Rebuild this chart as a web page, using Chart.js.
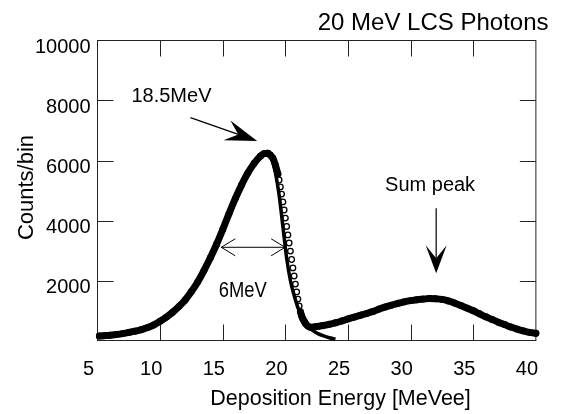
<!DOCTYPE html>
<html>
<head>
<meta charset="utf-8">
<script src="https://cdn.jsdelivr.net/npm/chart.js@4.4.1/dist/chart.umd.min.js"></script>
<style>
  html, body { margin: 0; padding: 0; background: #fff; }
</style>
</head>
<body>
<canvas id="lcsChart" width="564" height="414"></canvas>
<script>
// measured spectrum (open circles)
const measEnergy = [5.15, 5.5, 6.0, 6.5, 7.0, 7.5, 8.0, 8.5, 9.0, 9.5, 10.0, 10.5, 11.0, 11.5, 12.0, 12.5,
    13.0, 13.5, 14.0, 14.5, 15.0, 15.5, 16.0, 16.5, 17.0, 17.5, 18.0, 18.3, 18.6, 18.8, 19.0, 19.2,
    19.4, 19.5, 19.6, 19.7, 19.8, 19.9, 20.0, 20.1, 20.2, 20.3, 20.4, 20.5, 20.6, 20.7, 20.8, 20.9,
    21.0, 21.1, 21.2, 21.3, 21.4, 21.5, 21.6, 21.8, 22.0, 22.3, 22.6, 23.0, 23.5, 24.0, 24.5, 25.0,
    25.5, 26.0, 26.5, 27.0, 27.5, 28.0, 28.5, 29.0, 29.5, 30.0, 30.5, 31.0, 31.5, 32.0, 32.5, 33.0,
    33.5, 34.0, 34.5, 35.0, 35.5, 36.0, 36.5, 37.0, 37.5, 38.0, 38.5, 39.0, 39.5, 40.0];
const measCounts = [150, 160, 175, 200, 230, 270, 310, 360, 430, 520, 640, 780, 940, 1130, 1350, 1630,
    1950, 2330, 2750, 3200, 3700, 4230, 4730, 5180, 5580, 5900, 6140, 6230, 6240, 6180, 6080, 5850,
    5550, 5350, 5120, 4880, 4620, 4350, 4080, 3800, 3520, 3250, 2980, 2700, 2420, 2150, 1880, 1620,
    1380, 1150, 960, 820, 720, 640, 570, 480, 440, 450, 470, 500, 540, 590, 650, 720,
    780, 840, 900, 970, 1050, 1120, 1180, 1240, 1290, 1330, 1360, 1380, 1400, 1390, 1370, 1320,
    1250, 1170, 1080, 990, 890, 790, 700, 610, 530, 450, 380, 320, 270, 240];

// simulated response (solid line)
const simEnergy = [5.15, 6, 7, 8, 9, 10, 11, 12, 13, 14, 15, 16, 17, 17.5, 18, 18.3, 18.6, 18.9, 19.2,
    19.5, 19.8, 20.1, 20.4, 20.7, 21.0, 21.3, 21.6, 21.9, 22.2, 22.6, 23.0, 23.5, 24.0];
const simCounts = [150, 175, 230, 310, 430, 640, 940, 1350, 1950, 2750, 3700, 4750, 5600, 5930, 6200, 6280,
    6260, 6080, 5600, 4850, 3800, 2750, 2000, 1500, 1100, 780, 560, 430, 330, 230, 160, 90, 50];

const xTickValues = [5, 10, 15, 20, 25, 30, 35, 40];
const yTickValues = [0, 2000, 4000, 6000, 8000, 10000];

// annotation anchors in data units [MeVee, counts]
const peakArrow = { from: [12.42, 7427], to: [17.75, 6650] };
const peakLabel = { text: '18.5MeV', at: [7.71, 7940] };
const widthArrow = { from: [14.88, 3107], to: [19.98, 3107] };
const widthLabel = { text: '6MeV', at: [14.68, 1460] };
const sumArrow = { from: [32.04, 4407], to: [32.04, 2240] };
const sumLabel = { text: 'Sum peak', at: [27.96, 4983] };

const FONT = "'Liberation Sans', Arial, sans-serif";
Chart.defaults.font.family = FONT;
Chart.defaults.font.size = 20;
Chart.defaults.color = '#000';

const toXY = (xs, ys) => xs.map((x, i) => ({ x: x, y: ys[i] }));

function filledArrow(ctx, x0, y0, x1, y1, len, half, notch) {
    const a = Math.atan2(y1 - y0, x1 - x0);
    const c = Math.cos(a), s = Math.sin(a);
    const bx = x1 - c * len, by = y1 - s * len;
    const nx = x1 - c * notch, ny = y1 - s * notch;
    ctx.beginPath();
    ctx.moveTo(x0, y0);
    ctx.lineTo(nx, ny);
    ctx.stroke();
    ctx.beginPath();
    ctx.moveTo(x1, y1);
    ctx.lineTo(bx - s * half, by + c * half);
    ctx.lineTo(nx, ny);
    ctx.lineTo(bx + s * half, by - c * half);
    ctx.closePath();
    ctx.fill();
}

function openHead(ctx, x0, y0, x1, y1, len, half) {
    const a = Math.atan2(y1 - y0, x1 - x0);
    const c = Math.cos(a), s = Math.sin(a);
    const bx = x1 - c * len, by = y1 - s * len;
    ctx.beginPath();
    ctx.moveTo(bx - s * half, by + c * half);
    ctx.lineTo(x1, y1);
    ctx.lineTo(bx + s * half, by - c * half);
    ctx.stroke();
}

const frameAndNotes = {
    id: 'frameAndNotes',
    beforeDatasetsDraw(chart) {
        const { ctx, chartArea: a, scales: { x, y } } = chart;
        const tl = 16;
        ctx.save();
        ctx.strokeStyle = '#222';
        ctx.lineWidth = 1;
        ctx.strokeRect(a.left, a.top, a.right - a.left, a.bottom - a.top);
        ctx.beginPath();
        xTickValues.slice(1, -1).forEach(v => {
            const px = Math.round(x.getPixelForValue(v)) + 0.5;
            ctx.moveTo(px, a.bottom); ctx.lineTo(px, a.bottom - tl);
            ctx.moveTo(px, a.top); ctx.lineTo(px, a.top + tl);
        });
        yTickValues.slice(1, -1).forEach(v => {
            const py = Math.round(y.getPixelForValue(v)) + 0.5;
            ctx.moveTo(a.left, py); ctx.lineTo(a.left + tl, py);
            ctx.moveTo(a.right, py); ctx.lineTo(a.right - tl, py);
        });
        ctx.stroke();
        ctx.restore();
    },
    afterDraw(chart) {
        const { ctx, scales: { x, y } } = chart;
        const P = p => [x.getPixelForValue(p[0]), y.getPixelForValue(p[1])];
        ctx.save();
        ctx.fillStyle = '#000';
        ctx.strokeStyle = '#000';

        // titles
        ctx.font = '24px ' + FONT;
        ctx.textAlign = 'right';
        ctx.textBaseline = 'alphabetic';
        ctx.fillText('20 MeV LCS Photons', 548.5, 29.5);

        ctx.font = '21.5px ' + FONT;
        ctx.textAlign = 'center';
        ctx.fillText('Deposition Energy [MeVee]', 340.5, 405);

        ctx.save();
        ctx.translate(33, 187.5);
        ctx.rotate(-Math.PI / 2);
        ctx.font = '22px ' + FONT;
        ctx.fillText('Counts/bin', 0, 0);
        ctx.restore();

        // annotations
        ctx.textAlign = 'left';
        ctx.font = '20px ' + FONT;
        let p = P(peakLabel.at);
        ctx.fillText(peakLabel.text, p[0], p[1]);
        p = P(sumLabel.at);
        ctx.fillText(sumLabel.text, p[0], p[1]);
        ctx.font = '22px ' + FONT;
        p = P(widthLabel.at);
        ctx.fillText(widthLabel.text, p[0], p[1], 48);

        ctx.lineWidth = 1.2;
        let f = P(peakArrow.from), t = P(peakArrow.to);
        filledArrow(ctx, f[0], f[1], t[0], t[1], 32, 10.5, 20);
        f = P(sumArrow.from); t = P(sumArrow.to);
        filledArrow(ctx, f[0], f[1], t[0], t[1], 28, 10.5, 15);

        ctx.lineWidth = 1;
        f = P(widthArrow.from); t = P(widthArrow.to);
        ctx.beginPath();
        ctx.moveTo(f[0], f[1]); ctx.lineTo(t[0], t[1]);
        ctx.stroke();
        openHead(ctx, t[0], t[1], f[0], f[1], 14, 8.5);
        openHead(ctx, f[0], f[1], t[0], t[1], 14, 8.5);
        ctx.restore();
    }
};

const ctx = document.getElementById('lcsChart').getContext('2d');
const steep = c => Math.abs((c.p1.parsed.y - c.p0.parsed.y) / (c.p1.parsed.x - c.p0.parsed.x)) > 1600;

const chart = new Chart(ctx, {
    type: 'scatter',
    data: {
        datasets: [{
            label: 'Simulation',
            data: toXY(simEnergy, simCounts),
            showLine: true,
            borderColor: '#000',
            borderWidth: 3.5,
            pointRadius: 0,
            cubicInterpolationMode: 'monotone',
            clip: false
        }, {
            label: 'Measured',
            data: toXY(measEnergy, measCounts),
            showLine: true,
            borderColor: '#000',
            borderWidth: 7,
            borderCapStyle: 'round',
            cubicInterpolationMode: 'monotone',
            segment: {
                borderColor: c => steep(c) ? 'rgba(0,0,0,0)' : '#000'
            },
            pointRadius: 2.8,
            pointBorderWidth: 1.3,
            pointBorderColor: '#000',
            pointBackgroundColor: 'rgba(0,0,0,0)',
            clip: false
        }]
    },
    options: {
        responsive: false,
        animation: false,
        events: [],
        layout: { padding: { left: 0, top: 40.5, right: 11.5, bottom: 0 } },
        plugins: {
            legend: { display: false },
            title: { display: false },
            tooltip: { enabled: false }
        },
        scales: {
            x: {
                type: 'linear',
                min: 5,
                max: 40,
                afterFit: s => { s.height = 73.5; },
                afterBuildTicks: s => { s.ticks = xTickValues.map(v => ({ value: v })); },
                grid: { display: false, drawTicks: false },
                border: { display: false },
                ticks: { padding: 17, labelOffset: -9, maxRotation: 0, autoSkip: false }
            },
            y: {
                min: 0,
                max: 10000,
                afterFit: s => { s.width = 97.5; },
                afterBuildTicks: s => { s.ticks = yTickValues.map(v => ({ value: v })); },
                grid: { display: false, drawTicks: false },
                border: { display: false },
                ticks: {
                    padding: 7,
                    labelOffset: 6.5,
                    autoSkip: false,
                    callback: v => v === 0 ? '' : String(v)
                }
            }
        }
    },
    plugins: [frameAndNotes]
});
</script>
</body>
</html>
